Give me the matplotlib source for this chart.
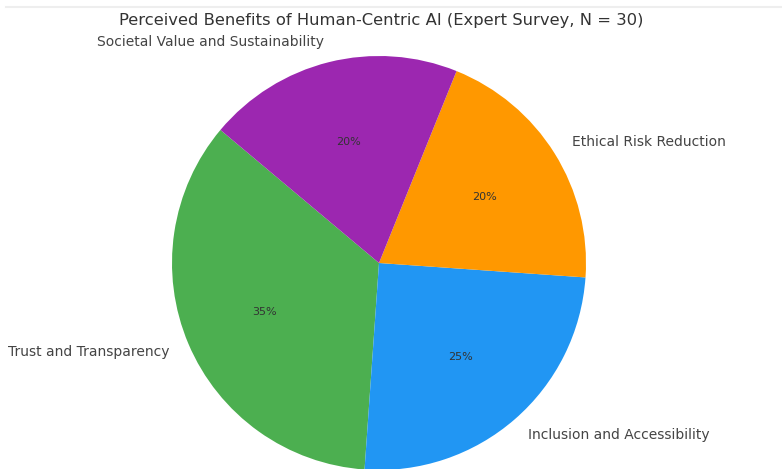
import matplotlib
matplotlib.use("Agg")
import matplotlib.pyplot as plt
from matplotlib.lines import Line2D

categories = ["Trust and Transparency", "Inclusion and Accessibility",
              "Ethical Risk Reduction", "Societal Value and Sustainability"]
shares = [35, 25, 20, 20]
colors = ["#4CAF50", "#2196F3", "#FF9800", "#9C27B0"]
title = "Perceived Benefits of Human-Centric AI (Expert Survey, N = 30)"

W, H = 782, 469
fig = plt.figure(figsize=(W / 100, H / 100), dpi=100)
fig.patch.set_facecolor("white")

cx, cy, r = 379, 263, 207
ax = fig.add_axes([(cx - r) / W, (H - cy - r) / H, 2 * r / W, 2 * r / H])
wedges, texts, autotexts = ax.pie(
    shares, labels=categories, colors=colors, startangle=140,
    autopct="%1.0f%%", labeldistance=1.1, pctdistance=0.6,
    textprops=dict(fontsize=10, color="#444444"))
for t in autotexts:
    t.set_fontsize(8)
    t.set_color("#333333")
ax.set_xlim(-1, 1)
ax.set_ylim(-1, 1)
ax.set_aspect("auto")
ax.axis("off")

fig.text(381 / W, 1 - 21 / H, title, ha="center", va="center",
         fontsize=11.8, color="#333333")
fig.add_artist(Line2D([6 / W, 1], [1 - 7 / H, 1 - 7 / H],
                      transform=fig.transFigure, color="#eeeeee", lw=1.5))

fig.savefig("out.png", dpi=100)
